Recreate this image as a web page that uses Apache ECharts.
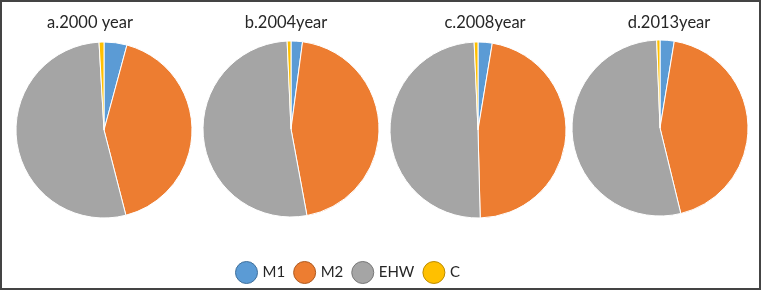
<!DOCTYPE html>
<html>
<head>
<meta charset="utf-8">
<script src="https://cdn.jsdelivr.net/npm/echarts@6/dist/echarts.min.js"></script>
<style>
  html, body { margin: 0; padding: 0; background: #fff; }
  #chart { width: 763px; height: 300px; }
</style>
</head>
<body>
<div id="chart"></div>
<script>
// shares (%) per land class
var categories = ['M1', 'M2', 'EHW', 'C'];
var yearTitles = ['a.2000 year', 'b.2004year', 'c.2008year', 'd.2013year'];
var share2000 = [4.2, 41.8, 53.1, 0.9];
var share2004 = [2.1, 45.0, 52.2, 0.7];
var share2008 = [2.6, 47.0, 49.7, 0.7];
var share2013 = [2.6, 43.6, 53.2, 0.6];

var colors = ['#5B9BD5', '#ED7D31', '#A5A5A5', '#FFC000'];
var borders = ['#41719C', '#AE5A21', '#787878', '#BC8C00'];

var allShares = [share2000, share2004, share2008, share2013];
var centers = [[104, 130], [291, 129], [478, 130], [660, 128]];
var titleX = [85, 281, 480, 664];

var font = 'Lato, "Open Sans", sans-serif';

var titles = [];
var series = [];
for (var i = 0; i < yearTitles.length; i++) {
  titles.push({
    text: yearTitles[i],
    left: titleX[i],
    top: 9,
    textAlign: 'center',
    textStyle: { fontFamily: font, fontSize: 16.5, fontWeight: 'normal', color: '#262626' }
  });
  var data = [];
  for (var j = 0; j < categories.length; j++) {
    data.push({ name: categories[j], value: allShares[i][j] });
  }
  series.push({
    type: 'pie',
    center: centers[i],
    radius: 88,
    startAngle: 90,
    clockwise: true,
    label: { show: false },
    labelLine: { show: false },
    emphasis: { disabled: true },
    itemStyle: { borderColor: '#fff', borderWidth: 1 },
    data: data
  });
}

var legendData = [];
for (var k = 0; k < categories.length; k++) {
  legendData.push({
    name: categories[k],
    itemStyle: { color: colors[k], borderColor: borders[k], borderWidth: 1 }
  });
}

var option = {
  backgroundColor: '#fff',
  animation: false,
  color: colors,
  title: titles,
  legend: {
    data: legendData,
    icon: 'circle',
    left: 230,
    top: 256,
    itemWidth: 22,
    itemHeight: 22,
    itemGap: 8,
    selectedMode: false,
    textStyle: { fontFamily: font, fontSize: 15, color: '#262626' }
  },
  graphic: [{
    type: 'rect',
    shape: { x: 1, y: 1, width: 759, height: 288 },
    style: { fill: null, stroke: '#444', lineWidth: 2 },
    silent: true
  }],
  series: series
};

var myChart = echarts.init(document.getElementById('chart'));
myChart.setOption(option);
</script>
</body>
</html>
